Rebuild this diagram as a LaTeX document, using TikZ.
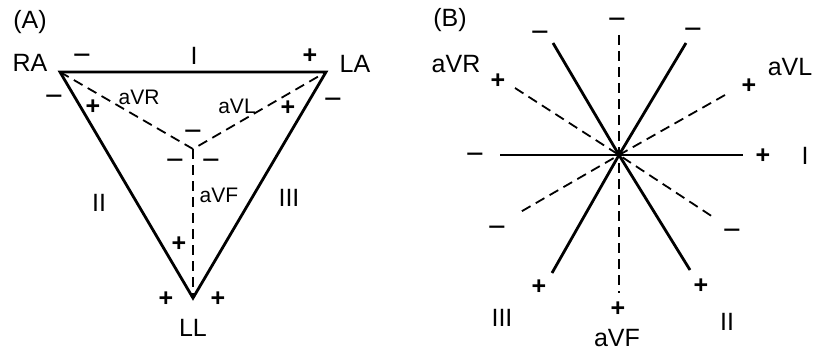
\documentclass[tikz,border=0pt]{standalone}
\usepackage{fontspec}
\setmainfont{Liberation Sans}
\usetikzlibrary{positioning}
\tikzset{every picture/.style={line width=0.75pt}}
\tikzset{
  lead/.style={line width=2.8pt, line join=miter},
  alead/.style={line width=1.8pt, dash pattern=on 10pt off 6pt},
  lbl/.style={font=\fontsize{25}{27}\selectfont, inner sep=0pt},
  sml/.style={font=\fontsize{21}{23}\selectfont, inner sep=0pt},
  pls/.style={font=\fontsize{25}{27}\selectfont\bfseries, inner sep=0pt,
    text height=16.5pt, text depth=0pt},
  mns/.style={font=\fontsize{31}{33}\selectfont, inner sep=0pt,
    text height=19.8pt, text depth=0pt},
}

\begin{document}
\begin{tikzpicture}[x=1pt,y=-1pt]
    \useasboundingbox (0,0) rectangle (814,353);

    % (A) Einthoven triangle
    \node[lbl] (tA) at (30,22) {(A)};
    \coordinate (RA) at (60,72);
    \coordinate (LA) at (326,72);
    \coordinate (LL) at (193,298);
    \coordinate (C) at (193,149);
    \draw[lead] (RA) -- (LA) -- (LL) -- cycle;
    \draw[alead] (RA) -- (C) -- (LA);
    \draw[alead] (C) -- (LL);
    \node[lbl] (nRA) at (30,63) {RA};
    \node[lbl] (nLA) at (355,64) {LA};
    \node[lbl] (nLL) at (193,328) {LL};
    \node[lbl] (nI) at (194,56) {I};
    \node[lbl] (nII) at (99,203) {II};
    \node[lbl] (nIII) at (289,198) {III};
    \node[sml] (nR) at (139,97) {aVR};
    \node[sml] (nL) at (237,106) {aVL};
    \node[sml] (nF) at (219,195) {aVF};
    % polarity signs
    \node[mns] (m1) at (82,56) {−};
    \node[pls] (p1) at (310,55) {+};
    \node[mns] (m2) at (54,97) {−};
    \node[pls] (p2) at (93,106) {+};
    \node[pls] (p3) at (288,107) {+};
    \node[mns] (m3) at (333,100) {−};
    \node[mns] (m4) at (193,132) {−};
    \node[mns] (m5) at (175,161) {−};
    \node[mns] (m6) at (211,161) {−};
    \node[pls] (p4) at (179,243) {+};
    \node[pls] (p5) at (166,298) {+};
    \node[pls] (p6) at (218,298) {+};

    % (B) hexaxial reference system
    \node[lbl] (tB) at (450,20) {(B)};
    \coordinate (O) at (619,155);
    \coordinate (Ia) at (500,155);
    \coordinate (Ib) at (743,155);
    \coordinate (IIa) at (553,43);
    \coordinate (IIb) at (690,270);
    \coordinate (IIIa) at (686,43);
    \coordinate (IIIb) at (552,273);
    \coordinate (Ra) at (515,88);
    \coordinate (Rb) at (716,219);
    \coordinate (La) at (725,95);
    \coordinate (Lb) at (517,214);
    \coordinate (Fa) at (619,35);
    \coordinate (Fb) at (619,293);
    \draw[lead] (Ia) -- (O) -- (Ib);
    \draw[lead] (IIa) -- (O) -- (IIb);
    \draw[lead] (IIIa) -- (O) -- (IIIb);
    \draw[alead] (Ra) -- (O) -- (Rb);
    \draw[alead] (La) -- (O) -- (Lb);
    \draw[alead] (Fa) -- (O) -- (Fb);
    \node[lbl] (bI) at (805,156) {I};
    \node[lbl] (bII) at (727,322) {II};
    \node[lbl] (bIII) at (502,318) {III};
    \node[lbl] (bR) at (456,64) {aVR};
    \node[lbl] (bL) at (790,67) {aVL};
    \node[lbl] (bF) at (617,338) {aVF};
    % polarity signs
    \node[mns] (q1) at (617,20) {−};
    \node[mns] (q2) at (540,33) {−};
    \node[mns] (q3) at (693,30) {−};
    \node[pls] (q4) at (498,80) {+};
    \node[pls] (q5) at (749,85) {+};
    \node[mns] (q6) at (475,155) {−};
    \node[pls] (q7) at (763,155) {+};
    \node[mns] (q8) at (497,228) {−};
    \node[mns] (q9) at (732,231) {−};
    \node[pls] (q10) at (539,286) {+};
    \node[pls] (q11) at (701,285) {+};
    \node[pls] (q12) at (618,308) {+};
\end{tikzpicture}
\end{document}
